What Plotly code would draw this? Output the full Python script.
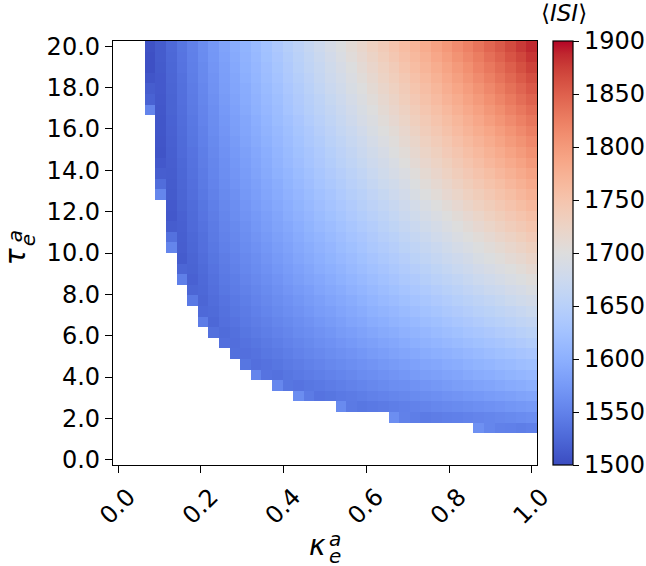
import plotly.graph_objects as go

# ---- grid coordinates (cell centres) ----
kappa = [0.0, 0.0256, 0.0513, 0.0769, 0.1026, 0.1282, 0.1538, 0.1795, 0.2051, 0.2308,
         0.2564, 0.2821, 0.3077, 0.3333, 0.3590, 0.3846, 0.4103, 0.4359, 0.4615, 0.4872,
         0.5128, 0.5385, 0.5641, 0.5897, 0.6154, 0.6410, 0.6667, 0.6923, 0.7179, 0.7436,
         0.7692, 0.7949, 0.8205, 0.8462, 0.8718, 0.8974, 0.9231, 0.9487, 0.9744, 1.0]
tau = [0.0, 0.513, 1.026, 1.538, 2.051, 2.564, 3.077, 3.590, 4.103, 4.615,
       5.128, 5.641, 6.154, 6.667, 7.179, 7.692, 8.205, 8.718, 9.231, 9.744,
       10.256, 10.769, 11.282, 11.795, 12.308, 12.821, 13.333, 13.846, 14.359, 14.872,
       15.385, 15.897, 16.410, 16.923, 17.436, 17.949, 18.462, 18.974, 19.487, 20.0]

# first kappa column with a finite <ISI> in each tau row (40 = none)
first_valid = [40, 40, 40, 34, 26, 21, 17, 15, 13, 12, 11, 10, 9, 8, 8, 7, 7, 6, 6, 6,
               5, 5, 5, 5, 5, 4, 4, 4, 4, 4, 4, 4, 4, 3, 3, 3, 3, 3, 3, 3]

# <ISI> values per tau row, starting at first_valid column
isi_rows = [
    [], [], [],
    [1565, 1554, 1549, 1548, 1546, 1548],
    [1562, 1549, 1546, 1543, 1545, 1547, 1548, 1550, 1552, 1554, 1556, 1558, 1560, 1562],
    [1559, 1542, 1539, 1541, 1543, 1546, 1548, 1550, 1552, 1555, 1557, 1559, 1561, 1564, 1566, 1568, 1571, 1573, 1575],
    [1561, 1543, 1536, 1538, 1541, 1543, 1546, 1549, 1551, 1554, 1556, 1559, 1561, 1564, 1567, 1569, 1572, 1574, 1577, 1580, 1582, 1585, 1588],
    [1555, 1538, 1536, 1539, 1541, 1544, 1547, 1550, 1553, 1556, 1559, 1562, 1564, 1567, 1570, 1573, 1576, 1579, 1582, 1585, 1588, 1591, 1594, 1597, 1600],
    [1553, 1536, 1534, 1538, 1541, 1544, 1547, 1550, 1553, 1556, 1560, 1563, 1566, 1569, 1572, 1576, 1579, 1582, 1585, 1588, 1592, 1595, 1598, 1601, 1605, 1608, 1611],
    [1538, 1532, 1535, 1538, 1542, 1545, 1549, 1552, 1556, 1559, 1563, 1566, 1569, 1573, 1576, 1580, 1583, 1587, 1590, 1594, 1597, 1601, 1605, 1608, 1612, 1615, 1619, 1622],
    [1533, 1532, 1535, 1539, 1542, 1546, 1550, 1554, 1557, 1561, 1565, 1568, 1572, 1576, 1580, 1584, 1587, 1591, 1595, 1599, 1602, 1606, 1610, 1614, 1618, 1622, 1625, 1629, 1633],
    [1532, 1531, 1535, 1538, 1542, 1546, 1550, 1554, 1558, 1562, 1566, 1570, 1574, 1578, 1582, 1586, 1590, 1594, 1599, 1603, 1607, 1611, 1615, 1619, 1623, 1627, 1631, 1635, 1640, 1644],
    [1533, 1529, 1533, 1538, 1542, 1546, 1550, 1554, 1559, 1563, 1567, 1571, 1576, 1580, 1584, 1589, 1593, 1597, 1602, 1606, 1610, 1615, 1619, 1623, 1628, 1632, 1636, 1641, 1645, 1650, 1654],
    [1544, 1525, 1532, 1536, 1541, 1545, 1549, 1554, 1558, 1563, 1567, 1572, 1576, 1581, 1586, 1590, 1595, 1599, 1604, 1608, 1613, 1618, 1622, 1627, 1632, 1636, 1641, 1646, 1650, 1655, 1660, 1664],
    [1526, 1528, 1534, 1539, 1543, 1548, 1553, 1558, 1562, 1567, 1572, 1577, 1581, 1586, 1591, 1596, 1601, 1606, 1610, 1615, 1620, 1625, 1630, 1635, 1640, 1645, 1650, 1654, 1659, 1664, 1669, 1674],
    [1541, 1523, 1530, 1536, 1541, 1546, 1551, 1556, 1561, 1566, 1571, 1576, 1581, 1586, 1591, 1596, 1601, 1607, 1612, 1617, 1622, 1627, 1632, 1637, 1642, 1648, 1653, 1658, 1663, 1668, 1674, 1679, 1684],
    [1523, 1525, 1532, 1539, 1544, 1549, 1554, 1559, 1565, 1570, 1575, 1580, 1586, 1591, 1596, 1602, 1607, 1612, 1618, 1623, 1628, 1634, 1639, 1645, 1650, 1655, 1661, 1666, 1672, 1677, 1683, 1688, 1694],
    [1547, 1519, 1526, 1534, 1541, 1546, 1552, 1557, 1563, 1568, 1574, 1579, 1585, 1590, 1596, 1601, 1607, 1612, 1618, 1624, 1629, 1635, 1640, 1646, 1652, 1657, 1663, 1669, 1675, 1680, 1686, 1692, 1697, 1703],
    [1523, 1521, 1528, 1536, 1543, 1549, 1555, 1560, 1566, 1572, 1577, 1583, 1589, 1595, 1600, 1606, 1612, 1618, 1624, 1629, 1635, 1641, 1647, 1653, 1659, 1665, 1671, 1677, 1683, 1689, 1695, 1700, 1706, 1712],
    [1514, 1522, 1530, 1538, 1545, 1551, 1557, 1563, 1569, 1575, 1581, 1587, 1593, 1599, 1605, 1611, 1617, 1623, 1629, 1635, 1641, 1647, 1654, 1660, 1666, 1672, 1678, 1684, 1691, 1697, 1703, 1709, 1715, 1722],
    [1553, 1516, 1524, 1532, 1540, 1548, 1554, 1560, 1566, 1572, 1578, 1584, 1591, 1597, 1603, 1609, 1616, 1622, 1628, 1635, 1641, 1647, 1654, 1660, 1666, 1673, 1679, 1686, 1692, 1698, 1705, 1711, 1718, 1724, 1731],
    [1534, 1517, 1525, 1533, 1542, 1550, 1556, 1562, 1569, 1575, 1582, 1588, 1594, 1601, 1607, 1614, 1620, 1627, 1633, 1640, 1647, 1653, 1660, 1666, 1673, 1680, 1686, 1693, 1700, 1706, 1713, 1720, 1726, 1733, 1740],
    [1515, 1518, 1527, 1535, 1543, 1552, 1558, 1565, 1572, 1578, 1585, 1591, 1598, 1605, 1612, 1618, 1625, 1632, 1639, 1645, 1652, 1659, 1666, 1673, 1679, 1686, 1693, 1700, 1707, 1714, 1721, 1728, 1735, 1742, 1749],
    [1511, 1519, 1528, 1537, 1545, 1554, 1561, 1568, 1574, 1581, 1588, 1595, 1602, 1609, 1616, 1623, 1630, 1637, 1644, 1651, 1658, 1665, 1672, 1679, 1686, 1693, 1700, 1707, 1714, 1721, 1729, 1736, 1743, 1750, 1757],
    [1512, 1521, 1529, 1538, 1547, 1556, 1563, 1570, 1577, 1584, 1591, 1598, 1605, 1613, 1620, 1627, 1634, 1641, 1649, 1656, 1663, 1670, 1678, 1685, 1692, 1700, 1707, 1714, 1722, 1729, 1736, 1744, 1751, 1759, 1766],
    [1554, 1513, 1522, 1531, 1540, 1549, 1558, 1565, 1573, 1580, 1587, 1594, 1602, 1609, 1616, 1624, 1631, 1639, 1646, 1653, 1661, 1668, 1676, 1683, 1691, 1699, 1706, 1714, 1721, 1729, 1736, 1744, 1752, 1759, 1767, 1775],
    [1530, 1514, 1523, 1532, 1542, 1551, 1560, 1568, 1575, 1582, 1590, 1597, 1605, 1613, 1620, 1628, 1635, 1643, 1651, 1658, 1666, 1674, 1681, 1689, 1697, 1705, 1712, 1720, 1728, 1736, 1744, 1752, 1759, 1767, 1775, 1783],
    [1516, 1515, 1524, 1534, 1543, 1553, 1562, 1570, 1577, 1585, 1593, 1601, 1608, 1616, 1624, 1632, 1640, 1647, 1655, 1663, 1671, 1679, 1687, 1695, 1703, 1711, 1719, 1727, 1735, 1743, 1751, 1759, 1767, 1775, 1783, 1791],
    [1511, 1516, 1525, 1535, 1545, 1554, 1564, 1572, 1580, 1588, 1596, 1604, 1612, 1620, 1628, 1636, 1644, 1652, 1660, 1668, 1676, 1684, 1692, 1701, 1709, 1717, 1725, 1733, 1742, 1750, 1758, 1767, 1775, 1783, 1791, 1800],
    [1507, 1517, 1527, 1536, 1546, 1556, 1566, 1574, 1582, 1590, 1598, 1607, 1615, 1623, 1631, 1639, 1648, 1656, 1664, 1673, 1681, 1689, 1698, 1706, 1715, 1723, 1731, 1740, 1748, 1757, 1765, 1774, 1782, 1791, 1799, 1808],
    [1508, 1518, 1528, 1538, 1548, 1558, 1568, 1576, 1585, 1593, 1601, 1610, 1618, 1626, 1635, 1643, 1652, 1660, 1669, 1677, 1686, 1695, 1703, 1712, 1720, 1729, 1738, 1746, 1755, 1764, 1772, 1781, 1790, 1799, 1807, 1816],
    [1509, 1519, 1529, 1539, 1549, 1560, 1570, 1579, 1587, 1596, 1604, 1613, 1621, 1630, 1638, 1647, 1656, 1665, 1673, 1682, 1691, 1700, 1708, 1717, 1726, 1735, 1744, 1753, 1762, 1771, 1780, 1788, 1797, 1806, 1815, 1824],
    [1509, 1520, 1530, 1540, 1551, 1561, 1572, 1581, 1589, 1598, 1607, 1616, 1624, 1633, 1642, 1651, 1660, 1669, 1678, 1687, 1696, 1705, 1714, 1723, 1732, 1741, 1750, 1759, 1768, 1777, 1786, 1796, 1805, 1814, 1823, 1832],
    [1552, 1510, 1521, 1531, 1542, 1552, 1563, 1574, 1583, 1592, 1601, 1610, 1618, 1628, 1637, 1646, 1655, 1664, 1673, 1682, 1691, 1700, 1710, 1719, 1728, 1737, 1747, 1756, 1765, 1775, 1784, 1793, 1803, 1812, 1822, 1831, 1840],
    [1520, 1511, 1521, 1532, 1543, 1554, 1565, 1576, 1585, 1594, 1603, 1612, 1621, 1631, 1640, 1649, 1658, 1668, 1677, 1686, 1696, 1705, 1715, 1724, 1734, 1743, 1753, 1762, 1772, 1781, 1791, 1800, 1810, 1820, 1829, 1839, 1848],
    [1515, 1512, 1522, 1533, 1544, 1555, 1567, 1578, 1587, 1596, 1606, 1615, 1624, 1634, 1643, 1653, 1662, 1672, 1681, 1691, 1700, 1710, 1720, 1729, 1739, 1749, 1758, 1768, 1778, 1788, 1797, 1807, 1817, 1827, 1837, 1846, 1856],
    [1508, 1512, 1523, 1534, 1546, 1557, 1568, 1580, 1589, 1599, 1608, 1618, 1627, 1637, 1646, 1656, 1666, 1676, 1685, 1695, 1705, 1715, 1725, 1734, 1744, 1754, 1764, 1774, 1784, 1794, 1804, 1814, 1824, 1834, 1844, 1854, 1864],
    [1504, 1513, 1524, 1536, 1547, 1558, 1570, 1581, 1591, 1601, 1610, 1620, 1630, 1640, 1650, 1660, 1669, 1679, 1689, 1699, 1709, 1719, 1729, 1739, 1750, 1760, 1770, 1780, 1790, 1800, 1810, 1821, 1831, 1841, 1851, 1862, 1872],
    [1504, 1514, 1525, 1537, 1548, 1560, 1572, 1583, 1593, 1603, 1613, 1623, 1633, 1643, 1653, 1663, 1673, 1683, 1693, 1704, 1714, 1724, 1734, 1745, 1755, 1765, 1775, 1786, 1796, 1807, 1817, 1827, 1838, 1848, 1859, 1869, 1880],
    [1505, 1514, 1526, 1538, 1549, 1561, 1573, 1585, 1595, 1605, 1615, 1625, 1636, 1646, 1656, 1666, 1677, 1687, 1697, 1708, 1718, 1729, 1739, 1750, 1760, 1770, 1781, 1792, 1802, 1813, 1823, 1834, 1845, 1855, 1866, 1877, 1887],
]

x_tickvals = [0.0, 0.2, 0.4, 0.6, 0.8, 1.0]
x_ticktext = ["0.0", "0.2", "0.4", "0.6", "0.8", "1.0"]
y_tickvals = [0, 2, 4, 6, 8, 10, 12, 14, 16, 18, 20]
y_ticktext = ["0.0", "2.0", "4.0", "6.0", "8.0", "10.0", "12.0", "14.0", "16.0", "18.0", "20.0"]
cb_tickvals = [1500, 1550, 1600, 1650, 1700, 1750, 1800, 1850, 1900]
z_min, z_max = 1500, 1900

# matplotlib "coolwarm" (Moreland) colour table
cw = [(59, 76, 192), (68, 90, 204), (77, 104, 215), (87, 117, 225), (98, 130, 234),
      (108, 142, 241), (119, 154, 247), (130, 165, 251), (141, 176, 254), (152, 185, 255),
      (163, 194, 255), (174, 201, 253), (184, 208, 249), (194, 213, 244), (204, 217, 238),
      (213, 219, 230), (221, 221, 221), (229, 216, 209), (236, 211, 197), (241, 204, 185),
      (245, 196, 173), (247, 187, 160), (247, 177, 148), (247, 166, 135), (244, 154, 123),
      (241, 141, 111), (236, 127, 99), (229, 112, 88), (222, 96, 77), (213, 80, 66),
      (203, 62, 56), (192, 40, 47), (180, 4, 38)]
colorscale = [[i / (len(cw) - 1), "rgb(%d,%d,%d)" % c] for i, c in enumerate(cw)]

n = len(kappa)
z = []
for r, row in enumerate(isi_rows):
    full = [None] * first_valid[r] + list(row)
    full += [None] * (n - len(full))
    z.append(full)

FONT = "DejaVu Sans"
dx = (kappa[1] - kappa[0]) / 2
dy = (tau[1] - tau[0]) / 2

fig = go.Figure(go.Heatmap(
    x=kappa, y=tau, z=z, zmin=z_min, zmax=z_max, colorscale=colorscale,
    hoverongaps=False,
    colorbar=dict(
        x=1.0377, xanchor="left", xpad=0, y=0.5, yanchor="middle", ypad=0,
        len=1.0, lenmode="fraction", thickness=20, thicknessmode="pixels",
        outlinecolor="black", outlinewidth=1.2,
        tickvals=cb_tickvals, ticks="outside", ticklen=6, tickwidth=1.3, tickcolor="black",
        tickfont=dict(family=FONT, size=24, color="black"),
    ),
))

axis_common = dict(
    showgrid=False, zeroline=False, showline=True, linecolor="black", linewidth=1.3,
    mirror=True, ticks="outside", ticklen=7, tickwidth=1.3, tickcolor="black",
    tickfont=dict(family=FONT, size=24, color="black"),
)
fig.update_xaxes(range=[kappa[0] - dx, kappa[-1] + dx], tickvals=x_tickvals,
                 ticktext=x_ticktext, tickangle=-45, ticklabelshift=10, **axis_common)
fig.update_yaxes(range=[tau[0] - dy, tau[-1] + dy], tickvals=y_tickvals,
                 ticktext=y_ticktext, **axis_common)

def px2paper(px, py):
    return (px - 113) / 424.0, (465 - py) / 424.3

ann = []
def add(text, px, py, size, angle=0):
    xp, yp = px2paper(px, py)
    ann.append(dict(text=text, x=xp, y=yp, xref="paper", yref="paper", showarrow=False,
                    xanchor="center", yanchor="middle", textangle=angle,
                    font=dict(family=FONT, size=size, color="black")))

# y-axis label  tau_e^a
add("<i>τ</i>", 15, 257, 28, -90)
add("<i>a</i>", 15, 236, 20, -90)
add("<i>e</i>", 28, 240, 20, -90)
# x-axis label  kappa_e^a
add("<i>κ</i>", 317, 546, 28)
add("<i>a</i>", 335, 539, 20)
add("<i>e</i>", 335, 556, 20)
# colour-bar title
add("⟨<i>ISI</i>⟩", 564, 13, 23)

fig.update_layout(
    width=646, height=566, margin=dict(l=113, r=109, t=41, b=101, autoexpand=False),
    paper_bgcolor="white", plot_bgcolor="white", annotations=ann,
    font=dict(family=FONT),
)

fig.write_html("out.html", config={"displayModeBar": False},
               post_script="document.body.style.margin='0';document.body.style.overflow='hidden';")
